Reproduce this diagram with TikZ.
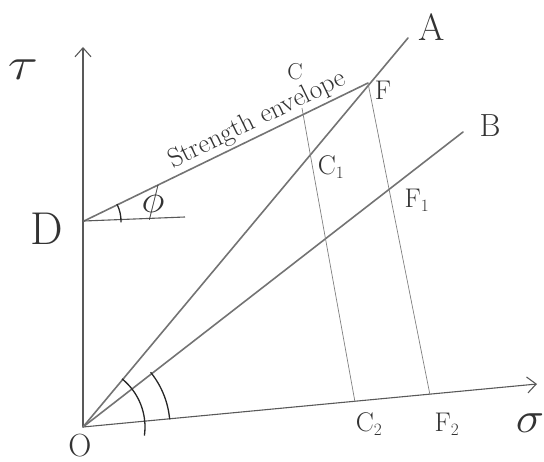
\documentclass[tikz,border=0pt]{standalone}
\usetikzlibrary{arrows.meta}
\begin{document}
\begin{tikzpicture}[x=1pt,y=-1pt,
  mainline/.style={draw=black!55,line width=1.6pt,line cap=round},
  thinline/.style={draw=black!50,line width=0.7pt},
  arcline/.style={draw=black!85,line width=1.3pt},
  axis/.style={draw=black!65,line width=1.1pt,-{Straight Barb[length=9pt,width=16pt,line width=1.1pt]}},
  lbl/.style={text=black!80,font=\fontsize{32}{34}\selectfont,inner sep=0pt},
  sublbl/.style={lbl,font=\fontsize{27}{29}\selectfont},
  greek/.style={text=black!80,font=\fontsize{20}{22}\selectfont,inner sep=0pt}]
\useasboundingbox (0,0) rectangle (544,462);
% points
\coordinate (O) at (83,427);
\coordinate (Yt) at (83,47);
\coordinate (Xt) at (537,384);
\coordinate (D) at (84,221);
\coordinate (Dh) at (185,217);
\coordinate (F) at (368,83);
\coordinate (C) at (302,108);
\coordinate (At) at (408,38);
\coordinate (Bt) at (463,132);
\coordinate (C1) at (310,153);
\coordinate (F1) at (389,189);
\coordinate (C2) at (355,402);
\coordinate (F2) at (430,395);
% axes
\draw[axis] (O) -- (Yt);
\draw[axis] (O) -- (Xt);
% lines
\draw[mainline] (D) -- (F);
\draw[mainline] (O) -- (At);
\draw[mainline] (O) -- (Bt);
\draw[black!65,line width=1.1pt] (D) -- (Dh);
\draw[thinline] (C) -- (C1) -- (C2);
\draw[thinline] (F) -- (F1) -- (F2);
% arcs
\draw[arcline] (D) ++(-27:37) arc[start angle=-27,end angle=2,radius=37];
\draw[arcline] (O) ++(-51:62) arc[start angle=-51,end angle=8,radius=62];
\draw[arcline] (O) ++(-39:87) arc[start angle=-39,end angle=-5,radius=87];
% labels
\node[greek,xscale=2.7,yscale=2.2] (ltau) at (23,70) {$\tau$};
\node[lbl,font=\fontsize{46}{48}\selectfont] (lD) at (47,229) {D};
\node[greek,scale=1.9] (lphi) at (153,203) {$\phi$};
\node[lbl] (lO) at (80,446) {O};
\node[lbl,font=\fontsize{38}{40}\selectfont] (lA) at (432,27) {A};
\node[lbl] (lB) at (490,126) {B};
\node[sublbl,font=\fontsize{23}{25}\selectfont] (lC) at (295,72) {C};
\node[sublbl] (lF) at (383,90) {F};
\node[sublbl] (lC1) at (331,167) {C$_1$};
\node[sublbl] (lF1) at (417,200) {F$_1$};
\node[sublbl] (lC2) at (369,424) {C$_2$};
\node[sublbl] (lF2) at (447,424) {F$_2$};
\node[greek,xscale=2.3,yscale=2.1] (lsig) at (530,423) {$\sigma$};
\node[lbl,font=\fontsize{27}{29}\selectfont,rotate=26,anchor=base] (lenv) at (260,126) {Strength envelope};
\end{tikzpicture}
\end{document}
